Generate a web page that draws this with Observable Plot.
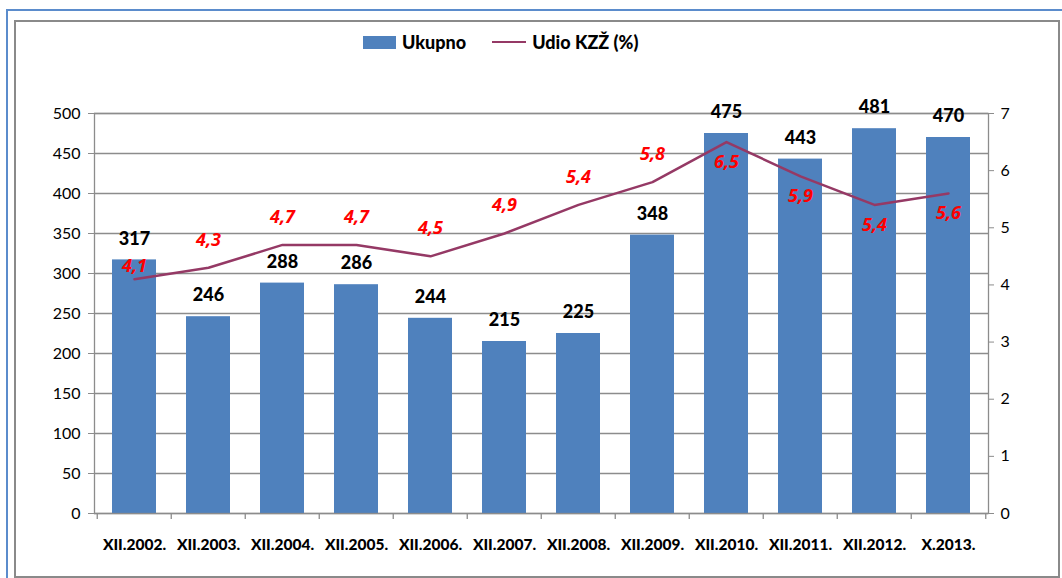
<!DOCTYPE html>
<html>
<head>
<meta charset="utf-8">
<script src="https://cdn.jsdelivr.net/npm/d3@7"></script>
<script src="https://cdn.jsdelivr.net/npm/@observablehq/plot@0.6"></script>
<style>
  html, body { margin: 0; padding: 0; background: #fff; }
  body { width: 1062px; height: 578px; position: relative; overflow: hidden; font-family: Lato, sans-serif; }
  #outer { position: absolute; left: 6px; top: 9px; width: 1080px; height: 600px; border: 2px solid #5b8ccc; box-sizing: border-box; }
  #inner { position: absolute; left: 14px; top: 20px; width: 1046px; height: 558px; border: 2px solid #8a8a8a; box-sizing: border-box; }
  #chart { position: absolute; left: 0; top: 0; }
  #legend { position: absolute; top: 31px; left: 363px; display: flex; align-items: center; font: 900 18px Lato, sans-serif; color: #000; }
  .sw { display: inline-block; width: 33px; height: 13px; background: #4F81BD; }
  .ln { display: inline-block; width: 34px; height: 2.5px; background: #953965; }
</style>
</head>
<body>
<div id="outer"></div>
<div id="inner"></div>
<div id="chart"></div>
<div id="legend">
  <span class="sw"></span><span style="margin-left:6px">Ukupno</span>
  <span class="ln" style="margin-left:26px"></span><span style="margin-left:6px">Udio KZŽ (%)</span>
</div>
<script>
const categories = ["XII.2002.", "XII.2003.", "XII.2004.", "XII.2005.", "XII.2006.", "XII.2007.", "XII.2008.", "XII.2009.", "XII.2010.", "XII.2011.", "XII.2012.", "X.2013."];
const ukupno = [317, 246, 288, 286, 244, 215, 225, 348, 475, 443, 481, 470];
const udio = [4.1, 4.3, 4.7, 4.7, 4.5, 4.9, 5.4, 5.8, 6.5, 5.9, 5.4, 5.6];
const leftTicks = [0, 50, 100, 150, 200, 250, 300, 350, 400, 450, 500];
const rightTicks = [0, 1, 2, 3, 4, 5, 6, 7];

const W = 1062, H = 578, mL = 94, mR = 74, mT = 113, mB = 65;
const k = 500 / 7; // right axis (0–7) mapped onto left axis (0–500)
const step = (W - mL - mR) / categories.length;
const grid = "#8c8c8c";
const fmt = v => v.toFixed(1).replace(".", ",");

const data = categories.map((c, i) => ({c, u: ukupno[i], p: udio[i], i}));

const redText = (filter, dy) => Plot.text(data, {
  filter, x: "c", y: d => d.p * k, text: d => fmt(d.p), dy,
  fill: "#ff0000", fontWeight: "bold", fontStyle: "italic", fontSize: 18,
  fontFamily: "'Noto Sans', sans-serif"
});

const chart = Plot.plot({
  width: W, height: H,
  marginLeft: mL, marginRight: mR, marginTop: mT, marginBottom: mB,
  x: {domain: categories, paddingInner: 0.4, paddingOuter: 0.2, axis: null},
  y: {domain: [0, 500], axis: null},
  style: {fontFamily: "Lato, sans-serif", background: "transparent", color: "#000"},
  marks: [
    Plot.ruleY(leftTicks, {stroke: grid, strokeWidth: 1.3}),
    Plot.barY(data, {x: "c", y: "u", fill: "#4F81BD"}),
    Plot.frame({stroke: grid, strokeWidth: 1.3}),
    Plot.line(data, {x: "c", y: d => d.p * k, stroke: "#953965", strokeWidth: 2.5}),
    Plot.axisY(leftTicks, {anchor: "left", label: null, tickSize: 6, tickPadding: 8, fontSize: 16, stroke: grid, fill: "#000"}),
    Plot.axisY(rightTicks.map(d => d * k), {anchor: "right", label: null, tickSize: 5, tickPadding: 7, fontSize: 16, stroke: grid, fill: "#000", tickFormat: d => String(Math.round(d / k))}),
    Plot.ruleX(categories, {x: d => d, dx: -step / 2, y1: 0, y2: -7.5, stroke: grid, strokeWidth: 1.3}),
    Plot.ruleX([categories[categories.length - 1]], {x: d => d, dx: step / 2, y1: 0, y2: -7.5, stroke: grid, strokeWidth: 1.3}),
    Plot.axisX({label: null, tickSize: 0, tickPadding: 25, fontWeight: 900, fontSize: 15.5, fill: "#000"}),
    Plot.text(data, {x: "c", y: "u", text: d => String(d.u), dy: -21, fontWeight: 900, fontSize: 18, fill: "#000"}),
    redText(d => d.i === 0, -13),
    redText(d => d.i > 0 && d.i < 8, -28),
    redText(d => d.i >= 8, 20)
  ]
});
document.getElementById("chart").appendChild(chart);
</script>
</body>
</html>
